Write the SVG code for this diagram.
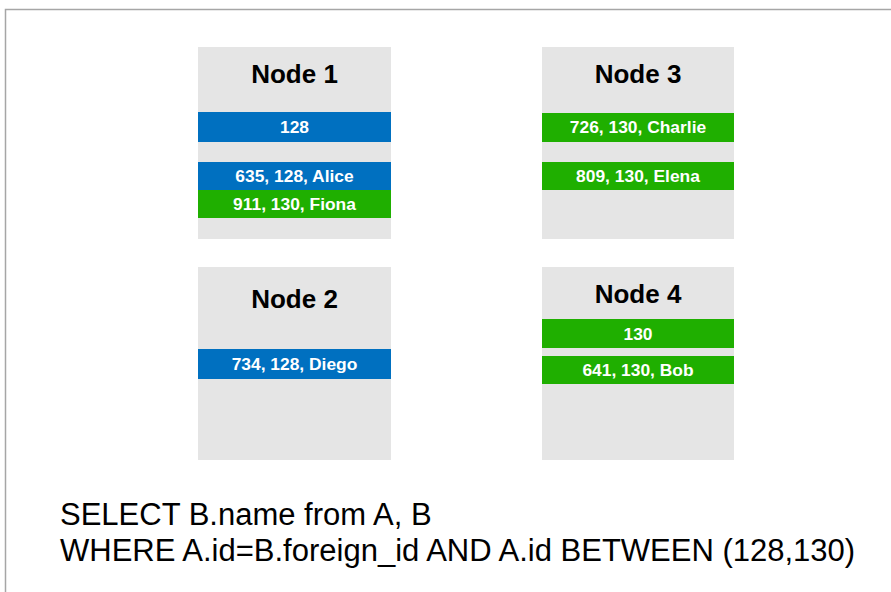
<svg xmlns="http://www.w3.org/2000/svg" width="891" height="592" viewBox="0 0 891 592">
<style>
.frame{fill:none;stroke:#a6a6a6;stroke-width:1.5}
.node{fill:#e5e5e5}
.title{font-family:"Liberation Sans",Arial,sans-serif;font-weight:bold;font-size:26px;fill:#000;text-anchor:middle}
.blue{fill:#0070c0}
.green{fill:#1faf00}
.lbl{font-family:"Liberation Sans",Arial,sans-serif;font-weight:bold;font-size:17.4px;fill:#fff;text-anchor:middle}
.sql{font-family:"Liberation Sans",Arial,sans-serif;font-size:31px;fill:#000}
</style>
<rect x="0" y="0" width="891" height="592" fill="#fff"/>
<path class="frame" d="M5.5,592 V9.5 H891"/>
<g id="node1">
<rect class="node" x="198" y="47" width="193" height="192"/>
<text class="title" x="294.5" y="83">Node 1</text>
<rect class="blue" x="198" y="112" width="193" height="30"/>
<text class="lbl" x="294.5" y="133">128</text>
<rect class="blue" x="198" y="162" width="193" height="28"/>
<text class="lbl" x="294.5" y="182">635, 128, Alice</text>
<rect class="green" x="198" y="190" width="193" height="28"/>
<text class="lbl" x="294.5" y="210">911, 130, Fiona</text>
</g>
<g id="node3">
<rect class="node" x="542" y="47" width="192" height="192"/>
<text class="title" x="638" y="83">Node 3</text>
<rect class="green" x="542" y="113" width="192" height="29"/>
<text class="lbl" x="638" y="133">726, 130, Charlie</text>
<rect class="green" x="542" y="162" width="192" height="28"/>
<text class="lbl" x="638" y="182">809, 130, Elena</text>
</g>
<g id="node2">
<rect class="node" x="198" y="267" width="193" height="193"/>
<text class="title" x="294.5" y="308">Node 2</text>
<rect class="blue" x="198" y="349" width="193" height="30"/>
<text class="lbl" x="294.5" y="370">734, 128, Diego</text>
</g>
<g id="node4">
<rect class="node" x="542" y="267" width="192" height="193"/>
<text class="title" x="638" y="303">Node 4</text>
<rect class="green" x="542" y="319" width="192" height="29"/>
<text class="lbl" x="638" y="340">130</text>
<rect class="green" x="542" y="356" width="192" height="28"/>
<text class="lbl" x="638" y="376">641, 130, Bob</text>
</g>
<g id="connectors"></g>
<g id="query">
<text class="sql" x="60" y="525">SELECT B.name from A, B</text>
<text class="sql" x="60" y="561">WHERE A.id=B.foreign_id AND A.id BETWEEN (128,130)</text>
</g>
</svg>
